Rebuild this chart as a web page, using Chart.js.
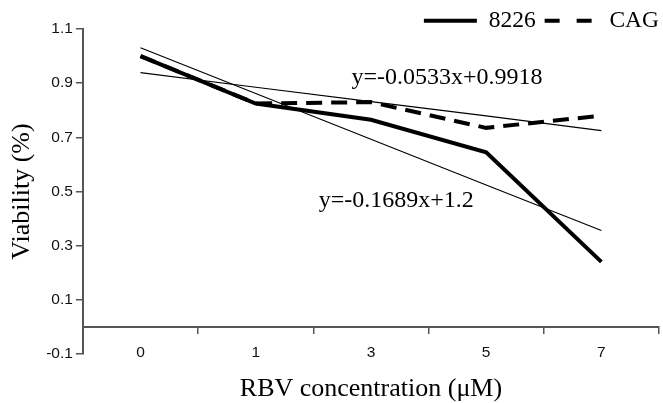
<!DOCTYPE html>
<html>
<head>
<meta charset="utf-8">
<script src="https://cdn.jsdelivr.net/npm/chart.js@4/dist/chart.umd.min.js"></script>
<style>
  html, body { margin: 0; padding: 0; background: #fff; }
  #wrap { width: 663px; height: 403px; }
</style>
</head>
<body>
<div id="wrap"><canvas id="chart1"></canvas></div>
<script>
// values
const categories = ['0', '1', '3', '5', '7'];
const line8226 = [1.0, 0.825, 0.765, 0.645, 0.24];
const lineCAG = [1.0, 0.825, 0.83, 0.735, 0.78];
// fitted trend lines (as drawn)
const fit8226 = [1.031, 0.862, 0.693, 0.524, 0.356];
const fitCAG = [0.939, 0.885, 0.832, 0.779, 0.725];
const yTicks = [-0.1, 0.1, 0.3, 0.5, 0.7, 0.9, 1.1];
const fitLabels = ['y=-0.0533x+0.9918', 'y=-0.1689x+1.2'];

const serif = '"Liberation Serif", "Times New Roman", serif';
const sans = '"Liberation Sans", Arial, sans-serif';
const axisColor = '#555';

// draws the regression equations next to their lines
const equationText = {
    id: 'equationText',
    afterDatasetsDraw(chart) {
        const {ctx, scales} = chart;
        const spots = [[2.66, 0.922], [2.22, 0.467]];
        ctx.save();
        ctx.font = '24px ' + serif;
        ctx.fillStyle = '#000';
        ctx.textAlign = 'center';
        ctx.textBaseline = 'middle';
        fitLabels.forEach((txt, i) => {
            ctx.fillText(txt, scales.x.getPixelForValue(spots[i][0]), scales.y.getPixelForValue(spots[i][1]));
        });
        ctx.restore();
    }
};

// nudge the legend to the very right edge like the original
const legendNudge = {
    id: 'legendNudge',
    afterLayout(chart) {
        if (chart.legend) {
            chart.legend.left += 9;
            chart.legend.right += 9;
        }
    }
};

new Chart(document.getElementById('chart1'), {
    type: 'line',
    data: {
        labels: categories,
        datasets: [
            { label: '8226', data: line8226, borderColor: '#000', backgroundColor: '#000', borderWidth: 4, pointRadius: 0, pointStyle: 'line', tension: 0 },
            { label: 'CAG', data: lineCAG, borderColor: '#000', backgroundColor: '#000', borderWidth: 4, borderDash: [16, 9], pointRadius: 0, pointStyle: 'line', tension: 0 },
            { label: 'fit8226', data: fit8226, borderColor: '#000', borderWidth: 1.2, pointRadius: 0, tension: 0 },
            { label: 'fitCAG', data: fitCAG, borderColor: '#000', borderWidth: 1.2, pointRadius: 0, tension: 0 }
        ]
    },
    options: {
        responsive: true,
        maintainAspectRatio: false,
        animation: false,
        layout: { padding: { left: 1, right: 4, top: 0, bottom: 49 } },
        plugins: {
            tooltip: { enabled: false },
            legend: {
                position: 'top',
                align: 'end',
                maxHeight: 29,
                labels: {
                    usePointStyle: true,
                    pointStyleWidth: 53,
                    padding: 9,
                    color: '#000',
                    font: { family: serif, size: 23.5 },
                    filter: item => item.datasetIndex < 2,
                    generateLabels(chart) {
                        const items = Chart.defaults.plugins.legend.labels.generateLabels(chart);
                        items.forEach(it => {
                            it.pointStyle = 'line';
                            if (it.datasetIndex === 1) it.lineDash = [15, 17];
                        });
                        return items;
                    }
                }
            }
        },
        scales: {
            x: {
                position: { y: 0 },
                offset: true,
                grid: { offset: true, drawOnChartArea: false, drawTicks: true, tickLength: 6, color: axisColor, lineWidth: 1.5 },
                border: { color: axisColor, width: 2 },
                ticks: { color: '#111', padding: 11, font: { family: sans, size: 15.5 } },
                title: { display: true, text: 'RBV concentration (μM)', color: '#000', padding: { top: 0, bottom: 2 }, font: { family: serif, size: 26 } }
            },
            y: {
                min: -0.1,
                max: 1.1,
                afterBuildTicks: axis => { axis.ticks = yTicks.map(v => ({ value: v })); },
                grid: { drawOnChartArea: false, drawTicks: true, tickLength: 7, color: axisColor, lineWidth: 1.5 },
                border: { color: axisColor, width: 2 },
                ticks: { color: '#111', padding: 3, font: { family: sans, size: 15.5 }, callback: v => v.toFixed(1) },
                title: { display: true, text: 'Viability (%)', color: '#000', padding: { top: 6, bottom: 5 }, font: { family: serif, size: 26 } }
            }
        }
    },
    plugins: [equationText, legendNudge]
});
</script>
</body>
</html>
